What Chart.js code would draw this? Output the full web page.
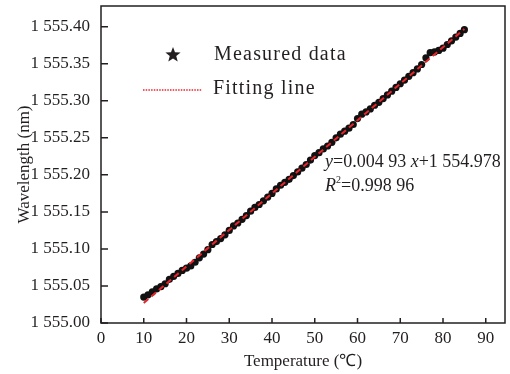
<!DOCTYPE html>
<html>
<head>
<meta charset="utf-8">
<script src="https://cdn.jsdelivr.net/npm/chart.js@4.4.0/dist/chart.umd.min.js"></script>
<style>
  body { margin: 0; background: #fff; }
</style>
</head>
<body>
<canvas id="chart" width="510" height="374"></canvas>
<script>
// measured points (1 degree steps)
const temperature = [
  10, 11, 12, 13, 14, 15, 16, 17, 18, 19,
  20, 21, 22, 23, 24, 25, 26, 27, 28, 29,
  30, 31, 32, 33, 34, 35, 36, 37, 38, 39,
  40, 41, 42, 43, 44, 45, 46, 47, 48, 49,
  50, 51, 52, 53, 54, 55, 56, 57, 58, 59,
  60, 61, 62, 63, 64, 65, 66, 67, 68, 69,
  70, 71, 72, 73, 74, 75, 76, 77, 78, 79,
  80, 81, 82, 83, 84, 85
];
const wavelength = [
  1555.035, 1555.038, 1555.042, 1555.046, 1555.049, 1555.053, 1555.059, 1555.063, 1555.067, 1555.071,
  1555.074, 1555.077, 1555.082, 1555.088, 1555.093, 1555.099, 1555.106, 1555.110, 1555.114, 1555.119,
  1555.125, 1555.131, 1555.135, 1555.140, 1555.145, 1555.151, 1555.156, 1555.160, 1555.165, 1555.170,
  1555.175, 1555.181, 1555.186, 1555.190, 1555.194, 1555.199, 1555.204, 1555.209, 1555.214, 1555.220,
  1555.226, 1555.230, 1555.235, 1555.239, 1555.244, 1555.250, 1555.255, 1555.259, 1555.263, 1555.268,
  1555.276, 1555.282, 1555.285, 1555.289, 1555.294, 1555.298, 1555.303, 1555.308, 1555.313, 1555.318,
  1555.323, 1555.328, 1555.333, 1555.338, 1555.343, 1555.349, 1555.358, 1555.365, 1555.366, 1555.368,
  1555.371, 1555.376, 1555.381, 1555.386, 1555.391, 1555.396
];
// fitting line end points
const fitTemperature = [10, 85];
const fitWavelength = [1555.027, 1555.397];

const xTicks = [0, 10, 20, 30, 40, 50, 60, 70, 80, 90];
const yTicks = [1555.00, 1555.05, 1555.10, 1555.15, 1555.20, 1555.25, 1555.30, 1555.35, 1555.40];
const yTickLabels = ['1 555.00', '1 555.05', '1 555.10', '1 555.15', '1 555.20', '1 555.25', '1 555.30', '1 555.35', '1 555.40'];

const serif = '"Liberation Serif", "Times New Roman", serif';
const ink = '#231f20';

// frame, inward tick marks, legend and equation
const decorations = {
  id: 'decorations',
  afterDraw(chart) {
    const { ctx, chartArea: a, scales: { x, y } } = chart;
    ctx.save();
    ctx.strokeStyle = ink;
    ctx.lineWidth = 1.5;
    ctx.strokeRect(a.left, a.top, a.right - a.left, a.bottom - a.top);

    ctx.beginPath();
    xTicks.forEach(v => {
      const px = x.getPixelForValue(v);
      ctx.moveTo(px, a.bottom);
      ctx.lineTo(px, a.bottom - 5);
    });
    yTicks.forEach(v => {
      const py = y.getPixelForValue(v);
      ctx.moveTo(a.left, py);
      ctx.lineTo(a.left + 7, py);
    });
    ctx.stroke();

    // legend
    const ds = chart.data.datasets;
    ctx.fillStyle = ink;
    ctx.textBaseline = 'middle';
    ctx.textAlign = 'left';

    // star marker
    const sx = a.left + 72, sy = a.top + 49, R = 8, r = 3.4;
    ctx.beginPath();
    for (let i = 0; i < 10; i++) {
      const ang = -Math.PI / 2 + i * Math.PI / 5;
      const rad = i % 2 === 0 ? R : r;
      const px = sx + rad * Math.cos(ang), py = sy + rad * Math.sin(ang);
      if (i === 0) ctx.moveTo(px, py); else ctx.lineTo(px, py);
    }
    ctx.closePath();
    ctx.fill();

    ctx.font = '20px ' + serif;
    ctx.letterSpacing = '1.2px';
    ctx.fillText(ds[0].label, a.left + 113, a.top + 49);

    ctx.strokeStyle = '#e8242b';
    ctx.lineWidth = 1.3;
    ctx.setLineDash([1.5, 1.2]);
    ctx.beginPath();
    ctx.moveTo(a.left + 42, a.top + 84);
    ctx.lineTo(a.left + 101, a.top + 84);
    ctx.stroke();
    ctx.setLineDash([]);
    ctx.fillText(ds[1].label, a.left + 112, a.top + 83);
    ctx.letterSpacing = '0px';

    // regression equation
    const parts = [
      ['italic', 'y'], ['', '=0.004 93 '], ['italic', 'x'], ['', '+1 554.978']
    ];
    let ex = a.left + 224;
    const ey = a.top + 156;
    parts.forEach(([style, txt]) => {
      ctx.font = (style ? style + ' ' : '') + '18px ' + serif;
      ctx.fillText(txt, ex, ey);
      ex += ctx.measureText(txt).width;
    });
    ex = a.left + 224;
    const ey2 = a.top + 180;
    ctx.font = 'italic 18px ' + serif;
    ctx.fillText('R', ex, ey2);
    ex += ctx.measureText('R').width;
    ctx.font = '10px ' + serif;
    ctx.fillText('2', ex, ey2 - 6);
    ex += ctx.measureText('2').width;
    ctx.font = '18px ' + serif;
    ctx.fillText('=0.998 96', ex, ey2);
    ctx.restore();
  }
};

new Chart(document.getElementById('chart'), {
  type: 'scatter',
  data: {
    datasets: [
      {
        label: 'Measured data',
        data: temperature.map((t, i) => ({ x: t, y: wavelength[i] })),
        backgroundColor: '#111111',
        borderWidth: 0,
        pointRadius: 3.6,
        order: 2
      },
      {
        label: 'Fitting line',
        data: fitTemperature.map((t, i) => ({ x: t, y: fitWavelength[i] })),
        showLine: true,
        borderColor: '#e8242b',
        borderWidth: 2,
        borderDash: [6, 4],
        pointRadius: 0,
        order: 1
      }
    ]
  },
  options: {
    responsive: false,
    animation: false,
    layout: { padding: { left: 0, top: 6, right: 5, bottom: 0 } },
    plugins: {
      legend: { display: false },
      tooltip: { enabled: false }
    },
    scales: {
      x: {
        type: 'linear',
        min: 0,
        max: 94.5,
        afterBuildTicks: s => { s.ticks = xTicks.map(v => ({ value: v })); },
        afterFit: s => { s.height = 51; s.paddingLeft = 0; s.paddingRight = 0; },
        grid: { display: false, drawTicks: false },
        border: { display: false },
        ticks: { color: ink, font: { family: serif, size: 17 }, padding: 5, maxRotation: 0, autoSkip: false },
        title: { display: true, text: 'Temperature (℃)', color: ink, font: { family: serif, size: 17 }, padding: { top: 0, bottom: 2 } }
      },
      y: {
        type: 'linear',
        min: 1555.00,
        max: 1555.428,
        afterBuildTicks: s => { s.ticks = yTicks.map(v => ({ value: v })); },
        afterFit: s => { s.width = 101; s.paddingTop = 0; s.paddingBottom = 0; },
        grid: { display: false, drawTicks: false },
        border: { display: false },
        ticks: {
          color: ink,
          font: { family: serif, size: 17 },
          padding: 11,
          autoSkip: false,
          callback: (v, i) => yTickLabels[i]
        },
        title: { display: true, text: 'Wavelength (nm)', color: ink, font: { family: serif, size: 17 }, padding: { top: 14, bottom: 0 } }
      }
    }
  },
  plugins: [decorations]
});
</script>
</body>
</html>
